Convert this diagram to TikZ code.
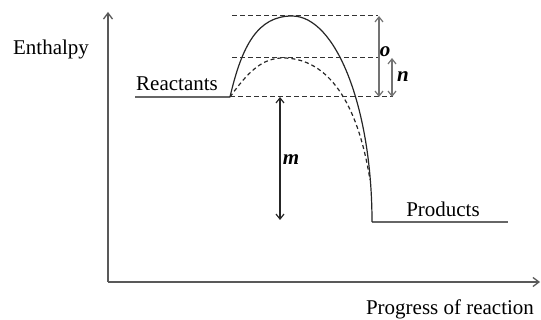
\documentclass[tikz,border=0pt]{standalone}
\usepackage{fontspec}
\setmainfont{Liberation Serif}
\usetikzlibrary{arrows.meta,positioning}
\tikzset{
  lbl/.style = {inner sep=0pt, anchor=base, font=\fontsize{21}{24}\selectfont},
  sym/.style = {inner sep=0pt, anchor=base, font=\fontsize{21}{24}\selectfont\bfseries\itshape},
  axis/.style = {draw=black!65, line width=1.3pt, -{Straight Barb[length=6pt,width=9pt]}},
  lvl/.style = {draw=black!60, line width=1.3pt},
  path/.style = {draw=black!85, line width=1.2pt},
  guide/.style = {draw=black!80, line width=1pt, dash pattern=on 5pt off 3pt},
  dim/.style = {draw=black!55, line width=1.2pt, {Straight Barb[length=5pt,width=8pt]}-{Straight Barb[length=5pt,width=8pt]}}
}
\begin{document}
\begin{tikzpicture}[x=1pt,y=-1pt]
  \useasboundingbox (0,0) rectangle (541,320);
  % axes
  \coordinate (o) at (108,282);
  \coordinate (ytop) at (108,12);
  \coordinate (xend) at (540,282);
  \draw[axis] (o) -- (ytop);
  \draw[axis] (o) -- (xend);
  \node[lbl] (ylab) at (51,55) {Enthalpy};
  \node[lbl] (xlab) at (450,315) {Progress of reaction};
  % levels
  \coordinate (r0) at (135,97);
  \coordinate (r1) at (230,97);
  \coordinate (p0) at (372,222);
  \coordinate (p1) at (508,222);
  \draw[lvl] (r0) -- (r1);
  \draw[lvl] (p0) -- (p1);
  \node[lbl] (reac) at (177,91) {Reactants};
  \node[lbl] (prod) at (443,217) {Products};
  % energy profiles
  \coordinate (top) at (292,16);
  \coordinate (mid) at (283,58);
  \draw[path] (r1) .. controls (242,45) and (258,16) .. (top)
              .. controls (336,16) and (372,108) .. (p0);
  \draw[path, dashed, dash pattern=on 4pt off 3pt] (r1) .. controls (248,72) and (262,58) .. (mid)
              .. controls (322,58) and (356,92) .. (370,180);
  % guide lines
  \coordinate (g1a) at (232,16);  \coordinate (g1b) at (378,16);
  \coordinate (g2a) at (232,58);  \coordinate (g2b) at (378,58);
  \coordinate (g3b) at (393,97);
  \draw[guide] (g1a) -- (g1b);
  \draw[guide] (g2a) -- (g2b);
  \draw[guide] (r1) -- (g3b);
  % dimension arrows
  \coordinate (oa) at (379,16);  \coordinate (ob) at (379,97);
  \coordinate (na) at (392,58);  \coordinate (nb) at (392,97);
  \coordinate (ma) at (280,97);  \coordinate (mb) at (280,220);
  \draw[dim] (oa) -- (ob);
  \draw[dim] (na) -- (nb);
  \draw[dim, draw=black!85] (ma) -- (mb);
  \node[sym] (olab) at (385,57) {o};
  \node[sym] (nlab) at (403,82) {n};
  \node[sym] (mlab) at (291,165) {m};
\end{tikzpicture}
\end{document}
